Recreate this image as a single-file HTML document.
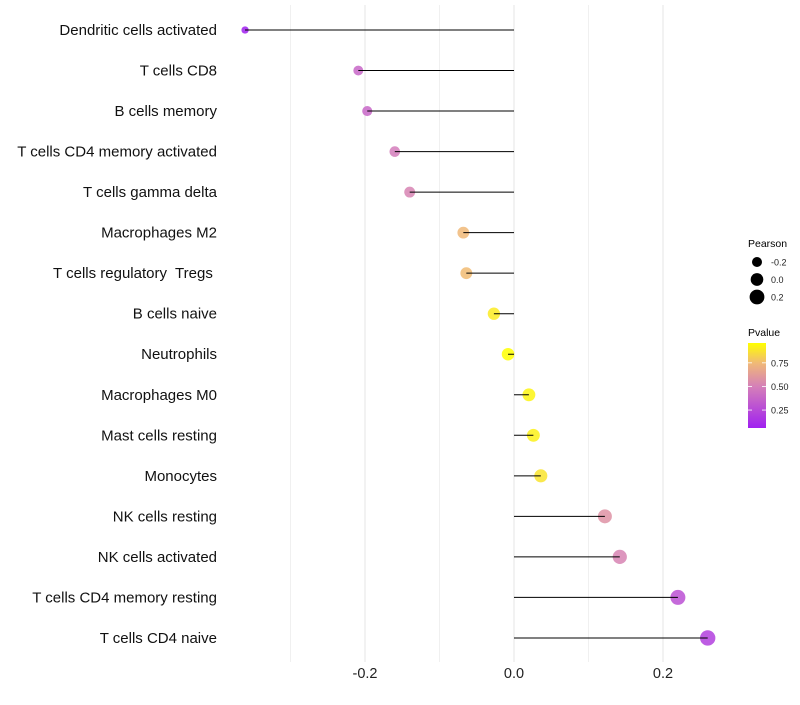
<!DOCTYPE html>
<html><head><meta charset="utf-8"><style>
body{margin:0;background:#fff;}
svg text{font-family:"Liberation Sans",sans-serif;white-space:pre;}
</style></head><body>
<svg id="chart" width="800" height="700" viewBox="0 0 800 700" xmlns="http://www.w3.org/2000/svg" xml:space="preserve">
<defs>
<linearGradient id="pg" x1="0" y1="1" x2="0" y2="0">
<stop offset="0" stop-color="#a020f0"/>
<stop offset="0.49" stop-color="#d580b8"/>
<stop offset="0.76" stop-color="#f0b878"/>
<stop offset="1" stop-color="#ffff00"/>
</linearGradient>
</defs>
<g id="grid"></g>
<g id="marks"></g>
<g id="ylabels"></g>
<g id="xlabels"></g>
<g>
<text x="748" y="247" font-size="10.5" fill="#000">Pearson</text>
<g id="sizeLegend"></g>
</g>
<g>
<text x="748" y="336" font-size="10.5" fill="#000">Pvalue</text>
<rect x="748" y="343" width="18" height="85" fill="url(#pg)"/>
<g id="colorLegend"></g>
</g>
</svg>
<script>
const categories=["Dendritic cells activated","T cells CD8","B cells memory","T cells CD4 memory activated","T cells gamma delta","Macrophages M2","T cells regulatory  Tregs ","B cells naive","Neutrophils","Macrophages M0","Mast cells resting","Monocytes","NK cells resting","NK cells activated","T cells CD4 memory resting","T cells CD4 naive"];
const pearson=[-0.361,-0.209,-0.197,-0.160,-0.140,-0.068,-0.064,-0.027,-0.008,0.020,0.026,0.036,0.122,0.142,0.220,0.260];
const pvalues=[0.05,0.38,0.38,0.48,0.52,0.75,0.76,0.90,0.96,0.93,0.92,0.88,0.58,0.52,0.28,0.2];
const xTicks=[-0.2,0.0,0.2];
const xTickLabels=["-0.2","0.0","0.2"];
const xMinor=[-0.3,-0.1,0.1];
const sizeLegendVals=[-0.2,0.0,0.2];
const colorLegendVals=[0.25,0.5,0.75];

const NS="http://www.w3.org/2000/svg";
const x=v=>514+v*745;
const y=i=>30+i*40.53;
const r=v=>1.1*Math.sqrt(Math.max(3,33+61*v));
const stops=[[0.06,[160,32,240]],[0.5,[213,128,184]],[0.75,[240,184,120]],[0.96,[255,255,0]]];
function col(p){
  if(p<=stops[0][0])return "rgb("+stops[0][1]+")";
  for(let k=1;k<stops.length;k++){
    if(p<=stops[k][0]){const a=stops[k-1],b=stops[k];const t=(p-a[0])/(b[0]-a[0]);
      return "rgb("+a[1].map((c,j)=>Math.round(c+(b[1][j]-c)*t)).join(",")+")";}
  }
  return "rgb("+stops[stops.length-1][1]+")";
}
function mk(tag,attrs,parent){const e=document.createElementNS(NS,tag);for(const k in attrs)e.setAttribute(k,attrs[k]);parent.appendChild(e);return e;}
const grid=document.getElementById('grid'),marks=document.getElementById('marks'),yl=document.getElementById('ylabels'),xl=document.getElementById('xlabels');
xMinor.forEach(v=>{const l=mk('line',{x1:x(v),x2:x(v),y1:5,y2:662,stroke:'#f0f0f0','stroke-width':1},grid);

});
xTicks.forEach((v,i)=>{const l=mk('line',{x1:x(v),x2:x(v),y1:5,y2:662,stroke:'#e8e8e8','stroke-width':1.2},grid);


const t=mk('text',{x:x(v),y:678,'text-anchor':'middle','font-size':14.5,fill:'#222'},xl);t.textContent=xTickLabels[i];

});
categories.forEach((c,i)=>{
  const cy=y(i);
  const d=mk('circle',{cx:x(pearson[i]),cy:cy,r:r(pearson[i]),fill:col(pvalues[i]),'fill-opacity':0.85},marks);
  
  
  const l=mk('line',{x1:x(0),x2:x(pearson[i]),y1:cy,y2:cy,stroke:'#000','stroke-width':1},marks);
  
  
  const t=mk('text',{x:217,y:cy+5,'text-anchor':'end','font-size':15,fill:'#111'},yl);t.textContent=c;
  
  
});
const sl=document.getElementById('sizeLegend');
sizeLegendVals.forEach((v,i)=>{const cy=262+i*17.5;
 const c=mk('circle',{cx:757,cy:cy,r:r(v),fill:'#000'},sl);
 
 
 const t=mk('text',{x:771,y:cy+3.5,'font-size':9,fill:'#222'},sl);t.textContent=v.toFixed(1);
 
 });
const cl=document.getElementById('colorLegend');
const py=p=>428-(p-0.06)/(0.96-0.06)*85;
colorLegendVals.forEach(v=>{const yy=py(v);
 const a=mk('line',{x1:748,x2:752,y1:yy,y2:yy,stroke:'#fff','stroke-width':0.8},cl);
 
 
 const b=mk('line',{x1:762,x2:766,y1:yy,y2:yy,stroke:'#fff','stroke-width':0.8},cl);
 
 
 const t=mk('text',{x:771,y:yy+3.5,'font-size':9,fill:'#222'},cl);t.textContent=v.toFixed(2);
 
 });
</script>
</body></html>
